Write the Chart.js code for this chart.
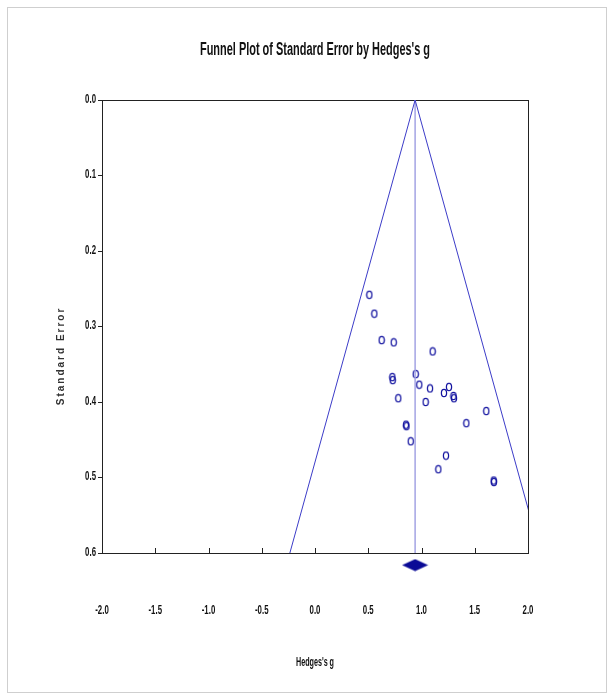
<!DOCTYPE html>
<html>
<head>
<meta charset="utf-8">
<title>Funnel Plot</title>
<script src="https://cdn.jsdelivr.net/npm/chart.js@4.4.1/dist/chart.umd.min.js"></script>
<style>
  html, body { margin: 0; padding: 0; background: #fff; }
  #wrap { position: relative; width: 616px; height: 700px; }
  #frame { position: absolute; left: 7px; top: 7px; width: 598px; height: 684px; border: 1px solid #cfcfcf; }
  #funnel { position: absolute; left: 0; top: 0; }
</style>
</head>
<body>
<div id="wrap">
  <div id="frame"></div>
  <canvas id="funnel" width="616" height="700"></canvas>
</div>
<script>
// Data
const studyG  = [0.510, 0.557, 0.626, 0.739, 1.105, 0.726, 0.730, 0.946, 0.979, 1.080, 1.258, 1.211, 1.300,
                 1.305, 0.782, 1.039, 1.608, 1.421, 0.855, 0.859, 0.899, 1.230, 1.158, 1.678, 1.680];
const studySE = [0.258, 0.283, 0.318, 0.321, 0.333, 0.367, 0.371, 0.363, 0.377, 0.382, 0.380, 0.388, 0.392,
                 0.395, 0.395, 0.400, 0.412, 0.428, 0.430, 0.432, 0.452, 0.471, 0.489, 0.504, 0.506];

const meanG = 0.94;
const edgeSE = [0, 0.6];
const leftEdgeG = [0.94, -0.236];
const rightEdgeG = [0.94, 2.116];
const diamondRow = 0.616;   // summary diamond sits just under the axis

const xTicks = [-2.0, -1.5, -1.0, -0.5, 0.0, 0.5, 1.0, 1.5, 2.0];
const yTicks = [0.0, 0.1, 0.2, 0.3, 0.4, 0.5, 0.6];

const titleText = "Funnel Plot of Standard Error by Hedges's g";
const xTitle = "Hedges's g";
const yTitle = "Standard Error";

const SANS = "'Liberation Sans', Arial, sans-serif";
const BLUE = "#1414a0";

// point glyphs
function makeEllipse() {
  const c = document.createElement("canvas");
  c.width = 8; c.height = 10;
  const g = c.getContext("2d");
  g.strokeStyle = BLUE;
  g.lineWidth = 1.25;
  g.beginPath();
  g.ellipse(4, 5, 2.6, 3.7, 0, 0, Math.PI * 2);
  g.stroke();
  return c;
}
function makeDiamond() {
  const c = document.createElement("canvas");
  c.width = 27; c.height = 13;
  const g = c.getContext("2d");
  g.fillStyle = "#0a0a96";
  g.beginPath();
  g.moveTo(0.5, 6.5); g.lineTo(13.5, 0.5); g.lineTo(26.5, 6.5); g.lineTo(13.5, 12.5);
  g.closePath();
  g.fill();
  return c;
}

const pairs = (xs, ys) => xs.map((x, i) => ({ x, y: ys[i] }));

// narrow bold text, like the original's Arial Narrow
function narrowText(ctx, text, x, y, sx, align) {
  ctx.save();
  ctx.translate(x, y);
  ctx.scale(sx, 1);
  ctx.textAlign = align;
  ctx.fillText(text, 0, 0);
  ctx.restore();
}

const extras = {
  id: "extras",
  afterDatasetsDraw(chart) {
    // tick marks on the bottom axis point inwards
    const { ctx, chartArea } = chart;
    const xs = chart.scales.x;
    ctx.save();
    ctx.strokeStyle = "#222";
    ctx.lineWidth = 1;
    xTicks.forEach(v => {
      const px = Math.round(xs.getPixelForValue(v)) + 0.5;
      ctx.beginPath();
      ctx.moveTo(px, chartArea.bottom - 5);
      ctx.lineTo(px, chartArea.bottom + 1);
      ctx.stroke();
    });
    ctx.restore();
  },
  afterDraw(chart) {
    const { ctx, chartArea } = chart;
    const xs = chart.scales.x, ys = chart.scales.y;
    const midX = (chartArea.left + chartArea.right) / 2;
    ctx.save();
    ctx.fillStyle = "#111";
    ctx.textBaseline = "middle";

    ctx.font = "bold 18px " + SANS;
    ctx.textAlign = "center";
    ctx.fillText(titleText, midX, chartArea.top - 50, 230);

    ctx.font = "bold 13.5px " + SANS;
    xTicks.forEach(v => narrowText(ctx, v.toFixed(1), xs.getPixelForValue(v), chartArea.bottom + 57, 0.58, "center"));
    yTicks.forEach(v => narrowText(ctx, v.toFixed(1), chartArea.left - 6, ys.getPixelForValue(v) - 1, 0.58, "right"));

    ctx.font = "bold 12.5px " + SANS;
    ctx.textAlign = "center";
    ctx.fillText(xTitle, midX, chartArea.bottom + 110, 38);

    ctx.translate(chartArea.left - 41, chartArea.top + (chartArea.bottom - chartArea.top) * 0.565);
    ctx.rotate(-Math.PI / 2);
    ctx.font = "bold 10px " + SANS;
    if ("letterSpacing" in ctx) ctx.letterSpacing = "2px";
    ctx.fillStyle = "#333";
    ctx.fillText(yTitle, 0, 0);
    ctx.restore();
  }
};

new Chart(document.getElementById("funnel"), {
  type: "scatter",
  data: {
    datasets: [
      { data: pairs(leftEdgeG, edgeSE), showLine: true, borderColor: "#3c3cc8", borderWidth: 1, pointRadius: 0 },
      { data: pairs(rightEdgeG, edgeSE), showLine: true, borderColor: "#3c3cc8", borderWidth: 1, pointRadius: 0 },
      { data: pairs([meanG, meanG], edgeSE), showLine: true, borderColor: "#a4a4e4", borderWidth: 1.5, pointRadius: 0 },
      { data: pairs(studyG, studySE), pointStyle: makeEllipse(), pointRadius: 4 },
      { data: [{ x: meanG, y: diamondRow }], pointStyle: makeDiamond(), pointRadius: 14, clip: false }
    ]
  },
  options: {
    responsive: false,
    animation: false,
    events: [],
    layout: { padding: { left: 12, right: 0, top: 100, bottom: 0 } },
    plugins: {
      legend: { display: false },
      tooltip: { enabled: false },
      title: { display: false }
    },
    scales: {
      x: {
        type: "linear", position: "bottom", min: -2, max: 2,
        afterBuildTicks: s => { s.ticks = xTicks.map(v => ({ value: v })); },
        afterFit: s => { s.height = 147; },
        grid: { display: true, drawOnChartArea: false, drawTicks: false },
        border: { color: "#222", width: 1 },
        ticks: { display: false }
      },
      x2: {
        type: "linear", position: "top", min: -2, max: 2,
        afterFit: s => { s.height = 0; },
        grid: { display: false }, ticks: { display: false },
        border: { color: "#222", width: 1 }
      },
      y: {
        type: "linear", position: "left", min: 0, max: 0.6, reverse: true,
        afterBuildTicks: s => { s.ticks = yTicks.map(v => ({ value: v })); },
        afterFit: s => { s.width = 90; },
        grid: { display: true, drawOnChartArea: false, drawTicks: true, tickLength: 4, color: "#222" },
        border: { color: "#222", width: 1 },
        ticks: { display: false }
      },
      y2: {
        type: "linear", position: "right", min: 0, max: 0.6, reverse: true,
        afterFit: s => { s.width = 88; },
        grid: { display: false }, ticks: { display: false },
        border: { color: "#222", width: 1 }
      }
    }
  },
  plugins: [extras]
});
</script>
</body>
</html>
